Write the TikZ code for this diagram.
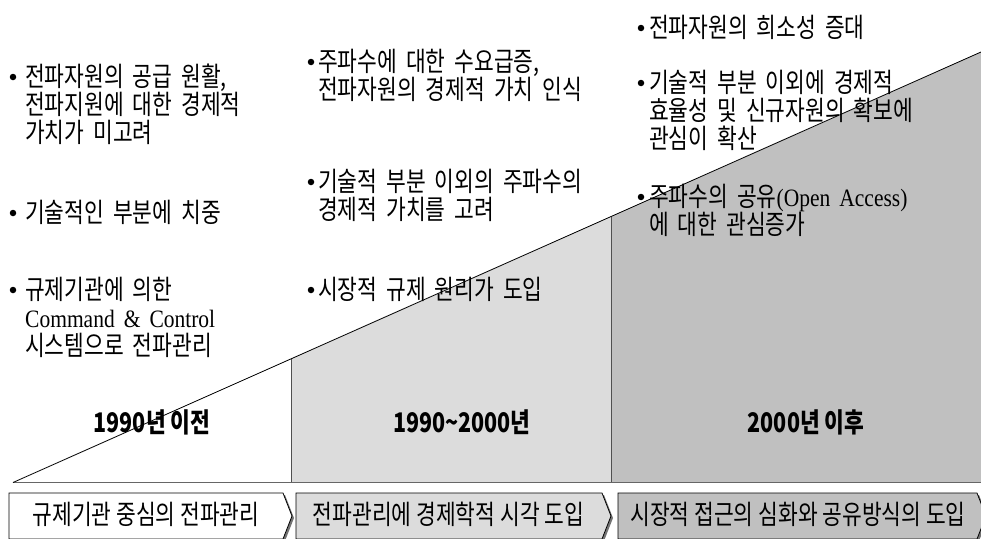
\documentclass[tikz,border=0pt]{standalone}
\usepackage{fontspec}
\setmainfont[FakeStretch=0.795]{Noto Sans CJK KR}
\newfontfamily\latfont[FakeStretch=0.86]{Liberation Serif}
\newcommand\myLat[1]{{\latfont\fontsize{25}{28.3}\selectfont #1}}
\definecolor{lightg}{HTML}{DCDCDC}
\definecolor{darkg}{HTML}{C0C0C0}
\definecolor{lineg}{HTML}{505050}
\begin{document}
\begin{tikzpicture}[x=1pt,y=-1pt,
  txt/.style={anchor=base west,inner sep=0pt,text width=340pt,align=left,font=\fontsize{27}{28.3}\selectfont},
  bul/.style={circle,fill=black,inner sep=0pt,minimum size=6.5pt},
  yearlbl/.style={anchor=base,inner sep=0pt,font=\fontsize{27}{28}\selectfont\bfseries},
  boxtxt/.style={anchor=base,inner sep=0pt,font=\fontsize{27}{28}\selectfont},
  chev/.style={draw=black,line width=0.8pt},
  shadowc/.style={fill=black!55},
  divline/.style={draw=lineg,line width=1pt}]
\useasboundingbox (0,0) rectangle (981,538);
% triangle regions
\coordinate (A) at (13,482.5);
\coordinate (B) at (981,52);
\coordinate (P1) at (291,358.9);
\coordinate (P2) at (611,216.5);
\coordinate (Q1) at (291,482.5);
\coordinate (Q2) at (611,482.5);
\coordinate (Q3) at (981,482.5);
\fill[lightg] (Q1) -- (P1) -- (P2) -- (Q2) -- cycle;
\fill[darkg] (Q2) -- (P2) -- (B) -- (Q3) -- cycle;
\draw[divline] (P1) -- (Q1);
\draw[divline] (P2) -- (Q2);
\draw[draw=black!60,line width=1.4pt] (A) -- (Q3);
\draw[line width=0.8pt] (A) -- (B);
% year labels
\node[yearlbl] (y1) at (152,432) {1990년 이전};
\node[yearlbl] (y2) at (462,432) {1990\textasciitilde2000년};
\node[yearlbl] (y3) at (806,432) {2000년 이후};
% column 1
\node[bul] (b1a) at (13,77) {};
\node[txt] (t1a) at (25,86) {전파자원의 공급 원활,\\전파지원에 대한 경제적\\가치가 미고려};
\node[bul] (b1b) at (13,213) {};
\node[txt] (t1b) at (25,222) {기술적인 부분에 치중};
\node[bul] (b1c) at (13,290) {};
\node[txt] (t1c) at (25,299) {규제기관에 의한\\\myLat{Command \& Control}\\시스템으로 전파관리};
% column 2
\node[bul] (b2a) at (311,62) {};
\node[txt] (t2a) at (318,71) {주파수에 대한 수요급증,\\전파자원의 경제적 가치 인식};
\node[bul] (b2b) at (311,182) {};
\node[txt] (t2b) at (318,191) {기술적 부분 이외의 주파수의\\경제적 가치를 고려};
\node[bul] (b2c) at (311,290) {};
\node[txt] (t2c) at (318,299) {시장적 규제 원리가 도입};
% column 3
\node[bul] (b3a) at (641,28) {};
\node[txt] (t3a) at (649,37) {전파자원의 희소성 증대};
\node[bul] (b3b) at (641,83) {};
\node[txt] (t3b) at (649,92) {기술적 부분 이외에 경제적\\효율성 및 신규자원의 확보에\\관심이 확산};
\node[bul] (b3c) at (641,197) {};
\node[txt] (t3c) at (649,206) {주파수의 공유\myLat{(Open Access)}\\에 대한 관심증가};
% bottom chevrons
\foreach \l/\r/\c in {9/283/white, 296/602/lightg, 618/977/darkg}{
  \fill[shadowc,shift={(2,2)}] (\l,493) -- (\r,493) -- (\r+9,516) -- (\r,539) -- (\l,539) -- cycle;
  \filldraw[chev,fill=\c] (\l,493) -- (\r,493) -- (\r+9,516) -- (\r,539) -- (\l,539) -- cycle;
}
\node[boxtxt] (s1) at (146,524) {규제기관 중심의 전파관리};
\node[boxtxt] (s2) at (448.5,524) {전파관리에 경제학적 시각 도입};
\node[boxtxt] (s3) at (798,524) {시장적 접근의 심화와 공유방식의 도입};
\end{tikzpicture}
\end{document}
